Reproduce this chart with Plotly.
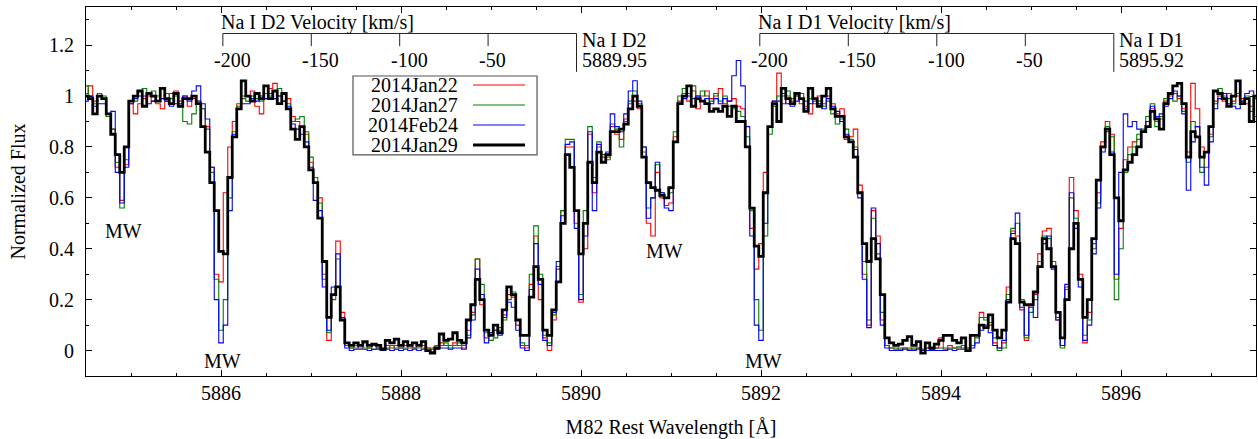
import numpy as np
import plotly.graph_objects as go

# ---------------- data ----------------
C_KMS = 299792.458
wl_start = 5884.50      # first pixel centre [A]
wl_step = 0.05          # pixel width [A]
n_pix = 261
wavelength = np.round(wl_start + wl_step * np.arange(n_pix), 3)

jan22 = [
    1.01, 1.04, 0.98, 1.00, 0.99, 0.92, 0.87, 0.72, 0.59, 0.73,
    0.97, 0.93, 0.97, 0.99, 1.00, 0.98, 0.97, 0.95, 0.98, 1.01,
    1.02, 0.98, 1.00, 0.96, 0.99, 0.98, 0.95, 0.88, 0.72, 0.30,
    0.27, 0.62, 0.80, 0.90, 0.97, 1.00, 1.00, 1.02, 0.96, 0.93,
    1.01, 1.03, 1.05, 1.00, 0.98, 0.99, 0.92, 0.90, 0.88, 0.85,
    0.74, 0.66, 0.60, 0.30, 0.04, 0.22, 0.43, 0.15, 0.02, 0.01,
    0.02, 0.01, 0.03, 0.01, 0.02, 0.01, 0.01, 0.02, 0.01, 0.02,
    0.01, 0.02, 0.01, 0.01, 0.02, 0.01, 0.01, 0.005, 0.02, 0.03,
    0.02, 0.02, 0.03, 0.02, 0.01, 0.08, 0.15, 0.36, 0.18, 0.05,
    0.07, 0.08, 0.09, 0.14, 0.22, 0.21, 0.10, 0.02, 0.01, 0.26,
    0.45, 0.20, 0.05, 0.00, 0.12, 0.32, 0.55, 0.80, 0.80, 0.50,
    0.19, 0.40, 0.85, 0.62, 0.80, 0.76, 0.76, 0.88, 0.85, 0.83,
    0.91, 0.97, 0.98, 0.95, 0.78, 0.50, 0.45, 0.70, 0.60, 0.57,
    0.58, 0.84, 0.98, 1.01, 0.98, 1.02, 0.95, 1.00, 1.02, 0.99,
    1.00, 1.03, 0.97, 0.98, 0.99, 0.96, 0.95, 0.80, 0.48, 0.32,
    0.42, 0.70, 0.88, 0.98, 1.09, 0.97, 1.00, 0.98, 1.00, 0.97,
    0.96, 0.93, 0.98, 1.00, 0.97, 1.00, 0.97, 0.93, 0.95, 0.83,
    0.84, 0.87, 0.65, 0.30, 0.10, 0.55, 0.45, 0.12, 0.02, 0.01,
    0.005, 0.01, 0.01, 0.01, 0.005, 0.01, 0.005, 0.01, 0.005, 0.01,
    0.05, 0.01, 0.02, 0.01, 0.01, 0.02, 0.01, 0.02, 0.06, 0.15,
    0.13, 0.10, 0.03, 0.01, 0.03, 0.25, 0.47, 0.45, 0.16, 0.04,
    0.18, 0.22, 0.38, 0.47, 0.48, 0.33, 0.12, 0.02, 0.25, 0.68,
    0.55, 0.30, 0.03, 0.15, 0.42, 0.62, 0.82, 0.90, 0.85, 0.28,
    0.48, 0.75, 0.80, 0.82, 0.83, 0.86, 0.90, 0.95, 0.90, 0.91,
    0.98, 1.00, 1.01, 0.99, 0.95, 0.78, 1.05, 0.95, 0.80, 0.72,
    0.85, 0.98, 1.00, 0.98, 1.01, 0.98, 1.00, 0.99, 0.97, 0.96, 0.99,
]

jan27 = [
    1.04, 1.00, 0.97, 1.01, 1.00, 0.92, 0.87, 0.74, 0.56, 0.75,
    0.98, 0.98, 1.02, 1.03, 1.01, 1.02, 1.00, 1.03, 1.01, 0.99,
    1.00, 0.96, 0.90, 0.89, 0.93, 0.98, 0.95, 0.87, 0.70, 0.28,
    0.08, 0.20, 0.60, 0.86, 0.96, 0.99, 0.98, 1.00, 0.99, 0.98,
    0.99, 1.00, 1.02, 1.03, 0.98, 0.97, 0.90, 0.91, 0.92, 0.86,
    0.76, 0.68, 0.58, 0.28, 0.07, 0.20, 0.36, 0.12, 0.02, 0.01,
    0.01, 0.02, 0.01, 0.01, 0.005, 0.01, 0.01, 0.01, 0.02, 0.01,
    0.01, 0.01, 0.02, 0.01, 0.01, 0.02, 0.01, 0.01, 0.01, 0.02,
    0.03, 0.01, 0.02, 0.03, 0.02, 0.06, 0.14, 0.36, 0.26, 0.07,
    0.04, 0.05, 0.08, 0.12, 0.20, 0.23, 0.12, 0.03, 0.02, 0.30,
    0.49, 0.30, 0.06, 0.03, 0.14, 0.33, 0.55, 0.83, 0.83, 0.55,
    0.22, 0.55, 0.88, 0.68, 0.82, 0.77, 0.75, 0.89, 0.87, 0.80,
    0.90, 0.98, 1.02, 0.97, 0.80, 0.56, 0.60, 0.73, 0.62, 0.60,
    0.62, 0.86, 1.00, 1.03, 1.01, 1.04, 1.00, 1.02, 1.00, 0.98,
    1.01, 0.98, 1.00, 0.96, 0.95, 0.94, 0.92, 0.84, 0.55, 0.20,
    0.08, 0.45, 0.85, 0.96, 1.00, 1.00, 1.02, 0.99, 1.00, 1.01,
    0.98, 0.99, 0.97, 0.98, 0.96, 0.98, 0.93, 0.89, 0.91, 0.87,
    0.83, 0.80, 0.62, 0.35, 0.12, 0.52, 0.38, 0.15, 0.02, 0.01,
    0.01, 0.005, 0.01, 0.005, 0.01, 0.01, 0.005, 0.01, 0.005, 0.01,
    0.01, 0.005, 0.01, 0.01, 0.015, 0.01, 0.01, 0.02, 0.05, 0.13,
    0.12, 0.11, 0.05, 0.00, 0.01, 0.22, 0.48, 0.50, 0.20, 0.05,
    0.15, 0.20, 0.35, 0.45, 0.44, 0.35, 0.13, 0.01, 0.24, 0.60,
    0.52, 0.28, 0.06, 0.12, 0.40, 0.58, 0.80, 0.88, 0.84, 0.20,
    0.40, 0.70, 0.77, 0.80, 0.85, 0.87, 0.92, 0.97, 0.88, 0.92,
    0.99, 1.01, 0.98, 1.00, 0.94, 0.74, 0.90, 0.88, 0.70, 0.78,
    0.84, 0.97, 1.03, 1.00, 0.99, 0.97, 1.01, 0.98, 1.00, 0.94, 0.92,
]

feb24 = [
    0.98, 1.00, 0.96, 0.97, 0.97, 0.93, 0.94, 0.70, 0.58, 0.72,
    0.97, 0.99, 1.00, 1.00, 0.97, 0.98, 0.98, 0.99, 0.98, 0.96,
    0.97, 0.97, 1.00, 0.98, 1.02, 1.04, 0.97, 0.91, 0.72, 0.20,
    0.03, 0.10, 0.55, 0.85, 0.95, 0.97, 0.97, 0.99, 0.98, 1.00,
    0.99, 1.01, 0.99, 1.00, 0.98, 0.96, 0.89, 0.87, 0.85, 0.82,
    0.72, 0.59, 0.55, 0.25, 0.08, 0.25, 0.38, 0.13, 0.01, 0.00,
    0.005, 0.005, 0.005, 0.00, 0.005, 0.005, 0.00, 0.005, 0.00, 0.005,
    0.00, 0.005, 0.00, 0.005, 0.00, 0.005, 0.00, -0.005, 0.005, 0.01,
    0.01, 0.005, 0.01, 0.01, 0.005, 0.05, 0.12, 0.32, 0.22, 0.03,
    0.07, 0.08, 0.06, 0.13, 0.19, 0.17, 0.08, 0.01, 0.00, 0.24,
    0.42, 0.26, 0.04, 0.02, 0.15, 0.35, 0.53, 0.81, 0.82, 0.48,
    0.20, 0.45, 0.86, 0.55, 0.81, 0.74, 0.78, 0.93, 0.88, 0.86,
    0.93, 1.02, 1.06, 0.98, 0.80, 0.52, 0.60, 0.74, 0.62, 0.56,
    0.55, 0.82, 0.97, 0.99, 1.00, 0.99, 1.00, 0.98, 0.99, 0.97,
    0.99, 0.97, 0.99, 0.98, 1.08, 1.14, 1.04, 0.88, 0.45, 0.10,
    0.04, 0.50, 0.88, 0.98, 0.98, 1.01, 0.97, 0.96, 0.98, 0.99,
    0.95, 0.97, 0.99, 0.97, 0.95, 0.99, 0.96, 0.94, 0.90, 0.85,
    0.82, 0.79, 0.60, 0.28, 0.09, 0.56, 0.42, 0.10, 0.01, 0.00,
    0.00, 0.00, 0.005, 0.00, 0.00, 0.005, 0.00, 0.00, 0.00, 0.00,
    0.00, 0.00, 0.005, 0.00, 0.005, 0.005, 0.00, 0.01, 0.03, 0.08,
    0.10, 0.07, 0.02, 0.01, 0.04, 0.20, 0.46, 0.54, 0.17, 0.06,
    0.17, 0.13, 0.33, 0.42, 0.45, 0.32, 0.12, 0.02, 0.26, 0.62,
    0.48, 0.25, 0.04, 0.10, 0.38, 0.56, 0.78, 0.86, 0.78, 0.30,
    0.70, 0.93, 0.88, 0.90, 0.87, 0.86, 0.90, 0.96, 0.92, 0.93,
    0.96, 0.99, 1.02, 1.00, 0.93, 0.63, 0.82, 0.88, 0.72, 0.65,
    0.82, 0.95, 0.99, 1.01, 0.97, 0.96, 0.95, 0.98, 1.01, 1.02, 1.00,
]

jan29 = [
    1.00, 0.99, 0.93, 1.00, 0.99, 0.93, 0.85, 0.77, 0.70, 0.80,
    0.98, 1.00, 1.02, 0.96, 1.01, 1.00, 0.98, 1.03, 0.99, 0.97,
    1.01, 0.96, 0.99, 0.99, 1.00, 0.97, 0.88, 0.78, 0.66, 0.55,
    0.39, 0.38, 0.68, 0.84, 0.95, 1.06, 1.00, 0.98, 1.01, 0.99,
    1.04, 0.99, 1.02, 0.97, 1.01, 0.95, 0.87, 0.83, 0.88, 0.80,
    0.71, 0.66, 0.52, 0.35, 0.13, 0.22, 0.25, 0.12, 0.03, 0.02,
    0.03, 0.02, 0.035, 0.02, 0.025, 0.02, 0.005, 0.04, 0.03, 0.045,
    0.02, 0.035, 0.02, 0.03, 0.02, 0.035, 0.00, -0.01, 0.01, 0.065,
    0.04, 0.045, 0.07, 0.04, 0.03, 0.12, 0.18, 0.28, 0.20, 0.08,
    0.06, 0.10, 0.07, 0.16, 0.25, 0.22, 0.12, 0.06, 0.06, 0.21,
    0.33, 0.28, 0.08, 0.06, 0.16, 0.27, 0.50, 0.77, 0.72, 0.55,
    0.38, 0.50, 0.74, 0.66, 0.78, 0.74, 0.77, 0.86, 0.86, 0.87,
    0.89, 0.95, 1.00, 0.96, 0.76, 0.66, 0.64, 0.63, 0.61, 0.60,
    0.64, 0.82, 0.97, 1.00, 1.04, 0.96, 0.99, 0.98, 0.97, 0.94,
    0.95, 0.94, 0.96, 0.92, 0.96, 0.90, 0.90, 0.80, 0.56, 0.41,
    0.37, 0.62, 0.88, 0.97, 0.90, 1.03, 0.99, 0.97, 1.01, 0.99,
    0.94, 1.03, 0.99, 0.96, 1.00, 1.03, 0.95, 0.92, 0.92, 0.84,
    0.82, 0.76, 0.62, 0.42, 0.35, 0.44, 0.36, 0.22, 0.05, 0.03,
    0.02, 0.025, 0.04, 0.055, 0.02, 0.035, -0.01, 0.03, 0.01, 0.025,
    0.04, 0.06, 0.06, 0.04, 0.03, 0.05, 0.00, 0.06, 0.06, 0.10,
    0.09, 0.14, 0.08, 0.05, 0.08, 0.19, 0.44, 0.42, 0.19, 0.18,
    0.18, 0.23, 0.33, 0.44, 0.40, 0.33, 0.15, 0.05, 0.20, 0.40,
    0.50, 0.28, 0.13, 0.20, 0.44, 0.67, 0.80, 0.87, 0.77, 0.60,
    0.51, 0.71, 0.74, 0.77, 0.80, 0.86, 0.88, 0.94, 0.91, 0.87,
    0.97, 1.01, 1.04, 1.05, 0.97, 0.76, 0.86, 0.84, 0.76, 0.78,
    0.88, 1.02, 1.01, 0.99, 0.96, 1.00, 1.06, 0.97, 0.99, 0.90, 1.00,
]

series_names = ["2014Jan22", "2014Jan27", "2014Feb24", "2014Jan29"]
series_values = [jan22, jan27, feb24, jan29]
series_colors = ["#ff0000", "#008000", "#0000ff", "#000000"]
series_widths = [1.1, 1.1, 1.1, 2.8]

for v in series_values:
    assert len(v) == n_pix, len(v)

# velocity axes for the two Na I lines
line_names = ["Na I D2", "Na I D1"]
line_rest = [5889.95, 5895.92]
vel_ticks = [-200, -150, -100, -50]

# Milky Way absorption labels (wavelength, flux position)
mw_x = [5884.92, 5886.02, 5890.93, 5892.03]
mw_y = [0.47, -0.04, 0.39, -0.04]

# ---------------- figure ----------------
FONT = "Liberation Serif, Times New Roman, serif"
FS = 20
TXT = dict(family=FONT, size=FS, color="#000")
fig = go.Figure()
for name, vals, col, w in zip(series_names, series_values, series_colors, series_widths):
    fig.add_trace(go.Scatter(
        x=wavelength, y=vals, mode="lines", name=name, showlegend=False,
        line=dict(color=col, width=w, shape="hvh"), hoverinfo="x+y+name"))

shapes = []
annotations = []

# velocity scale brackets
y_bar, y_tick, y_long = 1.246, 1.196, 1.095
for lname, rest in zip(line_names, line_rest):
    x_ticks = [rest * (1 + v / C_KMS) for v in vel_ticks]
    shapes.append(dict(type="line", xref="x", yref="y", x0=x_ticks[0], x1=rest,
                       y0=y_bar, y1=y_bar, line=dict(color="#222", width=1)))
    for xv, v in zip(x_ticks, vel_ticks):
        shapes.append(dict(type="line", xref="x", yref="y", x0=xv, x1=xv,
                           y0=y_bar, y1=y_tick, line=dict(color="#222", width=1)))
        annotations.append(dict(x=xv, y=1.143, xref="x", yref="y", text=str(v),
                                showarrow=False, xanchor="left", yanchor="middle",
                                xshift=-11, font=TXT))
    shapes.append(dict(type="line", xref="x", yref="y", x0=rest, x1=rest,
                       y0=y_bar, y1=y_long, line=dict(color="#222", width=1)))
    annotations.append(dict(x=x_ticks[0], y=1.289, xref="x", yref="y",
                            text=f"{lname} Velocity [km/s]", showarrow=False,
                            xanchor="left", yanchor="middle", xshift=-4, font=TXT))
    annotations.append(dict(x=rest, y=1.222, xref="x", yref="y", text=lname,
                            showarrow=False, xanchor="left", yanchor="middle",
                            xshift=3, font=TXT))
    annotations.append(dict(x=rest, y=1.143, xref="x", yref="y", text=f"{rest:.2f}",
                            showarrow=False, xanchor="left", yanchor="middle",
                            xshift=3, font=TXT))

for xm, ym in zip(mw_x, mw_y):
    annotations.append(dict(x=xm, y=ym, xref="x", yref="y", text="MW", showarrow=False,
                            xanchor="center", yanchor="middle", font=TXT))

# custom legend (text left, sample line right)
lg_x0, lg_x1, lg_y0, lg_y1 = 0.2282, 0.3855, 0.599, 0.813
shapes.append(dict(type="rect", xref="paper", yref="paper", x0=lg_x0, x1=lg_x1,
                   y0=lg_y0, y1=lg_y1, line=dict(color="#555", width=1.2),
                   fillcolor="rgba(255,255,255,0)"))
row_y = [0.7886, 0.7344, 0.6802, 0.6260]
for name, col, w, ry in zip(series_names, series_colors, series_widths, row_y):
    annotations.append(dict(x=0.3197, y=ry, xref="paper", yref="paper", text=name,
                            showarrow=False, xanchor="right", yanchor="middle", font=TXT))
    shapes.append(dict(type="line", xref="paper", yref="paper", x0=0.3308, x1=0.3752,
                       y0=ry, y1=ry, line=dict(color=col, width=w)))

axis_common = dict(showline=True, linecolor="#000", linewidth=1.2, mirror="allticks",
                   ticks="inside", ticklen=6, tickwidth=1, tickcolor="#000",
                   showgrid=False, zeroline=False, automargin=False,
                   tickfont=TXT)

fig.update_layout(
    width=1258, height=439,
    margin=dict(l=86, r=2, t=7, b=63),
    paper_bgcolor="white", plot_bgcolor="white",
    font=TXT,
    shapes=shapes, annotations=annotations,
    xaxis=dict(range=[5884.5, 5897.5], dtick=2, tick0=5886,
               minor=dict(dtick=0.5, ticks="inside", ticklen=3, tickcolor="#000"),
               title=dict(text="M82 Rest Wavelength [Å]", standoff=20, font=TXT),
               ticklabelstandoff=-1, **axis_common),
    yaxis=dict(range=[-0.1, 1.35], tickvals=[0, 0.2, 0.4, 0.6, 0.8, 1.0, 1.2],
               ticktext=["0", "0.2", "0.4", "0.6", "0.8", "1", "1.2"],
               minor=dict(dtick=0.1, tick0=0, ticks="inside", ticklen=3, tickcolor="#000"),
               title=dict(text="Normalized Flux", standoff=17, font=TXT),
               ticklabelstandoff=7, **axis_common),
)

fig.write_html("out.html", config={"displayModeBar": False},
               post_script="document.body.style.margin='0px';document.body.style.overflow='hidden';")
